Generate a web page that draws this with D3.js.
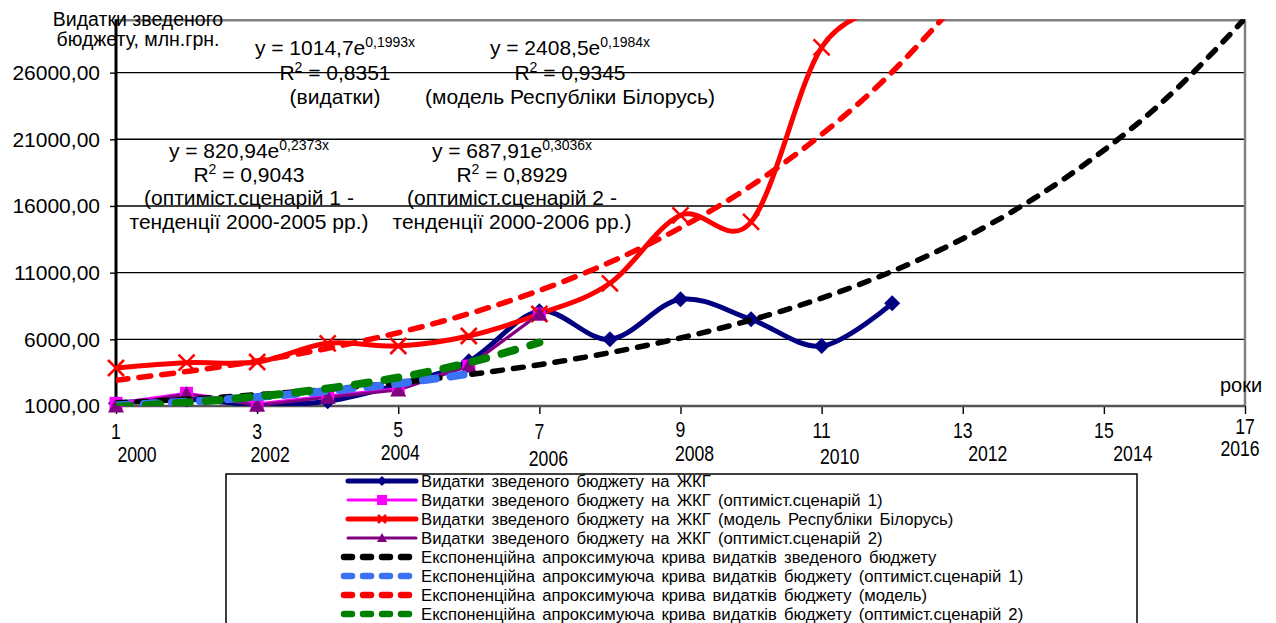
<!DOCTYPE html>
<html>
<head>
<meta charset="utf-8">
<script src="https://cdn.jsdelivr.net/npm/d3@7"></script>
<style>
  body { margin: 0; background: #fff; }
  svg { display: block; font-family: "Liberation Sans", Arial, sans-serif; }
</style>
</head>
<body>
<svg id="chart" width="1276" height="623"></svg>
<script>
// periods on the x axis (1 = 2000)
const periods = [1, 2, 3, 4, 5, 6, 7, 8, 9, 10, 11, 12];
const trendPeriods = [1, 2, 3, 4, 5, 6, 7, 8, 9, 10, 11, 12, 13, 14, 15, 16, 17];

// series, mln UAH
const actual = [1200, 1500, 1100, 1350, 2600, 4350, 8100, 6000, 9000, 7500, 5500, 8700];
const optimist1 = [1200, 1950, 1150, 1750, 2300, 4000, 7900];
const modelBelarus = [3850, 4250, 4300, 5700, 5500, 6250, 7900, 10200, 15300, 14800, 27900, 31000];
const optimist2 = [1000, 1900, 1050, 1650, 2200, 4000, 7900];

// trend lines as they appear on the chart
const trendActual = [1239, 1512, 1845, 2252, 2749, 3356, 4096, 5000, 6102, 7449, 9092, 11098, 13546, 16534, 20181, 24633, 30067];
const trendOpt1 = [1041, 1320, 1673, 2121, 2689, 3409];
const trendModel = [2937, 3582, 4368, 5326, 6495, 7921, 9659, 11779, 14364, 17516, 21360, 26048, 31764];
const trendOpt2 = [932, 1263, 1710, 2317, 3139, 4252, 5760];

// axis labels
const yTicks = [1000, 6000, 11000, 16000, 21000, 26000];
const xTicks = [1, 3, 5, 7, 9, 11, 13, 15, 17];
const xYears = ["2000", "2002", "2004", "2006", "2008", "2010", "2012", "2014", "2016"];
const yTitle = ["Видатки зведеного", "бюджету, млн.грн."];
const xTitle = "роки";

const legendNames = [
  "Видатки зведеного бюджету на ЖКГ",
  "Видатки зведеного бюджету на ЖКГ (оптиміст.сценарій 1)",
  "Видатки зведеного бюджету на ЖКГ (модель Республіки Білорусь)",
  "Видатки зведеного бюджету на ЖКГ (оптиміст.сценарій 2)",
  "Експоненційна апроксимуюча крива видатків зведеного бюджету",
  "Експоненційна апроксимуюча крива видатків бюджету (оптиміст.сценарій 1)",
  "Експоненційна апроксимуюча крива видатків бюджету (модель)",
  "Експоненційна апроксимуюча крива видатків бюджету (оптиміст.сценарій 2)"
];

// trend equations: [coef, exponent, R2, caption lines]
const equations = [
  ["1014,7", "0,1993x", "0,8351", ["(видатки)"]],
  ["2408,5", "0,1984x", "0,9345", ["(модель Республіки Білорусь)"]],
  ["820,94", "0,2373x", "0,9043", ["(оптиміст.сценарій 1 -", "тенденції 2000-2005 рр.)"]],
  ["687,91", "0,3036x", "0,8929", ["(оптиміст.сценарій 2 -", "тенденції 2000-2006 рр.)"]]
];

// ---- layout ----
const svg = d3.select("#chart");
const plot = {left: 116, right: 1245, top: 19.3, bottom: 406};
const x = d3.scaleLinear().domain([1, 17]).range([plot.left, plot.right]);
const y = d3.scaleLinear().domain([1000, 30000]).range([plot.bottom, plot.top]);
const fmt = d => d3.format(".2f")(d).replace(".", ",");

svg.append("defs").append("clipPath").attr("id", "plotclip")
  .append("rect")
  .attr("x", plot.left).attr("y", plot.top)
  .attr("width", plot.right - plot.left).attr("height", plot.bottom - plot.top);

// gridlines
svg.append("g").selectAll("line").data(yTicks.slice(1)).join("line")
  .attr("x1", plot.left).attr("x2", plot.right)
  .attr("y1", d => y(d)).attr("y2", d => y(d))
  .attr("stroke", "#000").attr("stroke-width", 1.4);

// plot frame (top and right in grey)
svg.append("line").attr("x1", plot.left).attr("x2", plot.right)
  .attr("y1", plot.top + 1).attr("y2", plot.top + 1)
  .attr("stroke", "#808080").attr("stroke-width", 2.5);
svg.append("line").attr("x1", plot.right).attr("x2", plot.right)
  .attr("y1", plot.top).attr("y2", plot.bottom)
  .attr("stroke", "#808080").attr("stroke-width", 2.5);

// y axis
const yAxis = d3.axisLeft(y).tickValues(yTicks).tickSize(6).tickPadding(10).tickFormat(fmt);
const gy = svg.append("g").attr("transform", "translate(" + plot.left + ",0)").call(yAxis);
gy.select(".domain").remove();
gy.selectAll(".tick line").attr("stroke", "#000").attr("stroke-width", 1.4);
gy.selectAll(".tick text").attr("font-size", 21).attr("fill", "#000")
  .attr("font-family", "Liberation Sans, Arial, sans-serif");

// x axis
const xAxis = d3.axisBottom(x).tickValues(xTicks).tickSize(8).tickFormat("");
const gx = svg.append("g").attr("transform", "translate(0," + plot.bottom + ")").call(xAxis);
gx.select(".domain").remove();
gx.selectAll(".tick line").attr("stroke", "#000").attr("stroke-width", 1.4);
svg.append("line").attr("x1", plot.left).attr("x2", plot.right)
  .attr("y1", plot.bottom).attr("y2", plot.bottom)
  .attr("stroke", "#555").attr("stroke-width", 2.5);
svg.append("line").attr("x1", plot.left).attr("x2", plot.left)
  .attr("y1", plot.top).attr("y2", plot.bottom)
  .attr("stroke", "#000").attr("stroke-width", 3);

// x labels: number on top, year below (positions nudged like the original)
const numY = [431, 431, 429, 431, 429, 430, 430, 430, 426];
const yearDX = [21, 13, 2, 9, 14, 18, 25, 29, -5];
const yearY = [454, 454, 452, 458, 453, 456, 453, 453, 448];
const xl = svg.append("g").attr("font-size", 21).attr("text-anchor", "middle");
xTicks.forEach(function(t, i) {
  xl.append("text")
    .attr("transform", "translate(" + x(t) + "," + numY[i] + ") scale(0.84,1.05)")
    .attr("dy", "0.35em").text(t);
  xl.append("text")
    .attr("transform", "translate(" + (x(t) + yearDX[i]) + "," + yearY[i] + ") scale(0.84,1.05)")
    .attr("dy", "0.35em").text(xYears[i]);
});

// axis titles
svg.append("text").attr("x", 138).attr("y", 26).attr("font-size", 19.5)
  .attr("text-anchor", "middle").text(yTitle[0]);
svg.append("text").attr("x", 138).attr("y", 46).attr("font-size", 19.5)
  .attr("text-anchor", "middle").text(yTitle[1]);
svg.append("text").attr("x", 1220).attr("y", 392).attr("font-size", 20).text(xTitle);

// ---- series ----
const lines = svg.append("g").attr("clip-path", "url(#plotclip)");
const markers = svg.append("g");

function drawMarker(g, type, cx, cy, color, s) {
  if (type === "diamond") {
    g.append("path").attr("d", "M0,-" + s + "L" + s + ",0L0," + s + "L-" + s + ",0Z")
      .attr("transform", "translate(" + cx + "," + cy + ")").attr("fill", color);
  } else if (type === "square") {
    g.append("rect").attr("x", cx - s).attr("y", cy - s)
      .attr("width", 2 * s).attr("height", 2 * s).attr("fill", color);
  } else if (type === "triangle") {
    g.append("path").attr("d", "M0,-" + s + "L" + s + "," + (s * 0.8) + "L-" + s + "," + (s * 0.8) + "Z")
      .attr("transform", "translate(" + cx + "," + cy + ")").attr("fill", color);
  } else if (type === "cross") {
    g.append("path").attr("d", "M-" + s + ",-" + s + "L" + s + "," + s + "M-" + s + "," + s + "L" + s + ",-" + s)
      .attr("transform", "translate(" + cx + "," + cy + ")")
      .attr("stroke", color).attr("stroke-width", 2.5).attr("fill", "none");
  }
}

const seriesDefs = [
  {values: actual, color: "#000080", width: 5, curve: d3.curveCardinal.tension(0), marker: "diamond", ms: 8},
  {values: optimist1, color: "#ff00ff", width: 3, curve: d3.curveLinear, marker: "square", ms: 6.5},
  {values: modelBelarus, color: "#ff0000", width: 5, curve: d3.curveCardinal.tension(0), marker: "cross", ms: 8},
  {values: optimist2, color: "#800080", width: 3, curve: d3.curveLinear, marker: "triangle", ms: 8}
];
const trendDefs = [
  {values: trendActual, color: "#000000", width: 5.5, dash: "10,11"},
  {values: trendOpt1, color: "#3a72f5", width: 8, dash: "13,15"},
  {values: trendModel, color: "#ff0000", width: 5.5, dash: "12,11"},
  {values: trendOpt2, color: "#008000", width: 8, dash: "14,16"}
];

seriesDefs.forEach(function(s) {
  const pts = s.values.map((v, i) => [periods[i], v]);
  lines.append("path").datum(pts)
    .attr("d", d3.line().x(d => x(d[0])).y(d => y(d[1])).curve(s.curve))
    .attr("fill", "none").attr("stroke", s.color).attr("stroke-width", s.width)
    .attr("stroke-linejoin", "round");
  const mg = markers.append("g");
  pts.forEach(function(p) {
    if (y(p[1]) >= plot.top) drawMarker(mg, s.marker, x(p[0]), y(p[1]), s.color, s.ms);
  });
});

trendDefs.forEach(function(t) {
  const pts = t.values.map((v, i) => [trendPeriods[i], v]);
  markers.append("path").datum(pts)
    .attr("clip-path", "url(#plotclip)")
    .attr("d", d3.line().x(d => x(d[0])).y(d => y(d[1])).curve(d3.curveNatural))
    .attr("fill", "none").attr("stroke", t.color).attr("stroke-width", t.width)
    .attr("stroke-dasharray", t.dash).attr("stroke-linecap", "round");
});

// ---- equation labels ----
const eqPos = [[335, 55], [570, 55], [249, 158], [512, 158]];
const eqStep = [24.5, 24.5, 23.5, 23.5];
const eqG = svg.append("g").attr("font-size", 21).attr("text-anchor", "middle");
equations.forEach(function(e, i) {
  const cx = eqPos[i][0], by = eqPos[i][1], st = eqStep[i];
  const t1 = eqG.append("text").attr("x", cx).attr("y", by);
  t1.append("tspan").text("y = " + e[0] + "e");
  t1.append("tspan").attr("font-size", 14).attr("dy", -8).text(e[1]);
  const t2 = eqG.append("text").attr("x", cx).attr("y", by + st);
  t2.append("tspan").text("R");
  t2.append("tspan").attr("font-size", 14).attr("dy", -8).text("2");
  t2.append("tspan").attr("dy", 8).text(" = " + e[2]);
  e[3].forEach(function(line, j) {
    eqG.append("text").attr("x", cx).attr("y", by + st * (2 + j)).text(line);
  });
});

// ---- legend ----
const legend = svg.append("g");
legend.append("rect").attr("x", 226).attr("y", 474).attr("width", 911).attr("height", 160)
  .attr("fill", "#fff").attr("stroke", "#000").attr("stroke-width", 1.5);
const legendStyles = seriesDefs.concat(trendDefs);
legendNames.forEach(function(name, i) {
  const ly = 481 + i * 19;
  const st = legendStyles[i];
  const row = legend.append("g");
  if (i < 4) {
    row.append("line").attr("x1", 348).attr("x2", 416).attr("y1", ly).attr("y2", ly)
      .attr("stroke", st.color).attr("stroke-width", st.width).attr("stroke-linecap", "round");
    drawMarker(row, st.marker, 382, ly, st.color, st.marker === "cross" ? 4 : 5);
  } else {
    row.append("line").attr("x1", 344).attr("x2", 416).attr("y1", ly).attr("y2", ly)
      .attr("stroke", st.color).attr("stroke-width", 6.5)
      .attr("stroke-dasharray", "8,11").attr("stroke-linecap", "round");
  }
  row.append("text").attr("x", 421).attr("y", ly).attr("dy", "0.36em")
    .attr("font-size", 16.7).attr("word-spacing", 2.5).text(name);
});
</script>
</body>
</html>
